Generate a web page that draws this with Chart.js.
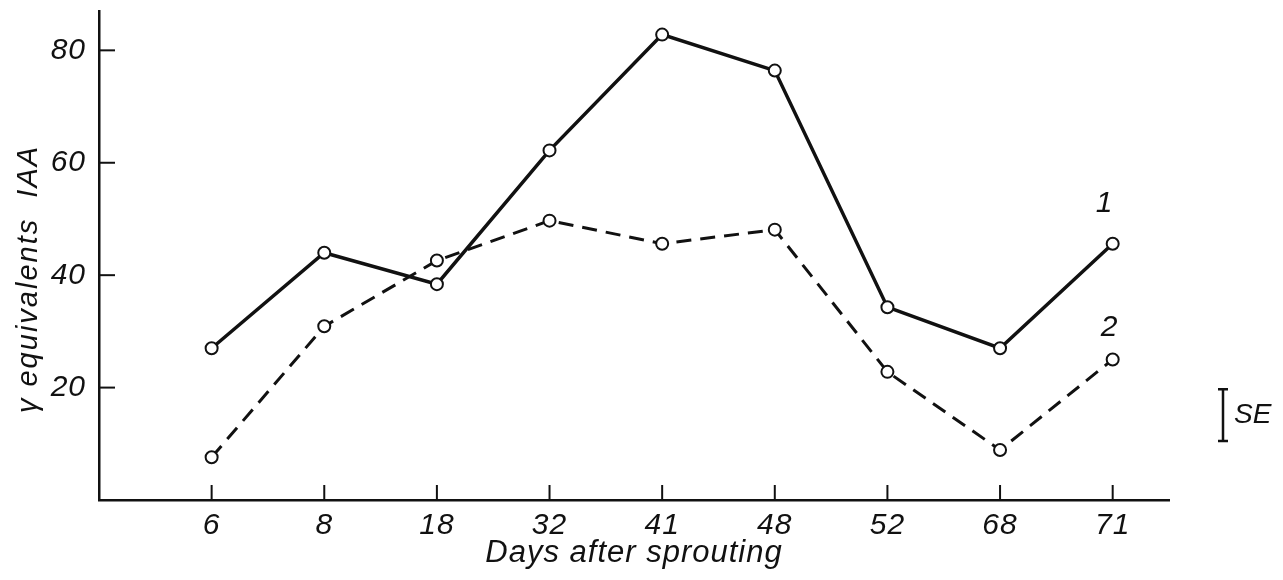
<!DOCTYPE html>
<html>
<head>
<meta charset="utf-8">
<script src="https://cdn.jsdelivr.net/npm/chart.js@4/dist/chart.umd.min.js"></script>
<style>
  html, body { margin: 0; padding: 0; background: #fff; }
  #wrap { width: 1283px; height: 580px; }
</style>
</head>
<body>
<div id="wrap"><canvas id="iaaChart" width="1283" height="580"></canvas></div>
<script>
// Días después de la brotación y equivalentes de AIA
const days = ['6', '8', '18', '32', '41', '48', '52', '68', '71'];
const curve1 = [27.0, 44.0, 38.4, 62.2, 82.8, 76.4, 34.3, 27.0, 45.6];
const curve2 = [7.6, 30.9, 42.6, 49.7, 45.6, 48.1, 22.8, 8.9, 25.0];
const yTicks = [20, 40, 60, 80];
const curveLabels = ['1', '2'];
const seLength = 9.2;
const seBottom = 10.5;

const ink = '#111';
const fontFamily = '"Liberation Sans", "DejaVu Sans", sans-serif';

const toPoints = (values) => values.map((v, i) => ({ x: i, y: v }));

// Sin relleno de las escalas: el área del gráfico queda fija
const noPadding = (scale) => {
    scale.paddingTop = 0;
    scale.paddingBottom = 0;
    scale.paddingLeft = 0;
    scale.paddingRight = 0;
};

// Marcas de los ejes hacia dentro, rótulos de curvas y barra de error
const extrasPlugin = {
    id: 'extras',
    beforeDraw(chart) {
        chart.ctx.letterSpacing = '1px';
    },
    afterDraw(chart) {
        const { ctx, scales: { x, y }, chartArea } = chart;
        ctx.save();
        ctx.strokeStyle = ink;
        ctx.fillStyle = ink;
        ctx.lineWidth = 2;

        // marcas del eje x
        days.forEach((_, i) => {
            const px = x.getPixelForValue(i);
            ctx.beginPath();
            ctx.moveTo(px, chartArea.bottom);
            ctx.lineTo(px, chartArea.bottom - 15);
            ctx.stroke();
        });
        // marcas del eje y
        yTicks.forEach(v => {
            const py = y.getPixelForValue(v);
            ctx.beginPath();
            ctx.moveTo(chartArea.left, py);
            ctx.lineTo(chartArea.left + 16, py);
            ctx.stroke();
        });

        // título del eje y
        ctx.font = `italic 29px ${fontFamily}`;
        ctx.letterSpacing = '2px';
        ctx.textAlign = 'center';
        ctx.textBaseline = 'middle';
        ctx.save();
        ctx.translate(29, 279);
        ctx.rotate(-Math.PI / 2);
        ctx.fillText('\u03B3 equivalents  IAA', 0, 0);
        ctx.restore();

        // rótulos 1 y 2 junto al último punto
        const last = days.length - 1;
        ctx.letterSpacing = '1px';
        ctx.font = `italic 30px ${fontFamily}`;
        ctx.fillText(curveLabels[0], x.getPixelForValue(last) - 8, y.getPixelForValue(curve1[last]) - 40);
        ctx.fillText(curveLabels[1], x.getPixelForValue(last) - 3, y.getPixelForValue(curve2[last]) - 32);

        // barra del error estándar
        const sx = chartArea.right + 54;
        const y0 = y.getPixelForValue(seBottom);
        const y1 = y.getPixelForValue(seBottom + seLength);
        ctx.lineWidth = 2.5;
        ctx.beginPath();
        ctx.moveTo(sx, y0); ctx.lineTo(sx, y1);
        ctx.moveTo(sx - 5, y0); ctx.lineTo(sx + 5, y0);
        ctx.moveTo(sx - 5, y1); ctx.lineTo(sx + 5, y1);
        ctx.stroke();
        ctx.textAlign = 'left';
        ctx.letterSpacing = '0px';
        ctx.font = `italic 28px ${fontFamily}`;
        ctx.fillText('SE', sx + 11, (y0 + y1) / 2);
        ctx.restore();
    }
};

const lineStyle = {
    borderColor: ink,
    borderWidth: 3.5,
    pointRadius: 6,
    pointBorderWidth: 2,
    pointBackgroundColor: '#fff',
    pointBorderColor: ink,
    tension: 0,
    fill: false
};

new Chart(document.getElementById('iaaChart'), {
    type: 'line',
    data: {
        datasets: [
            { label: curveLabels[0], data: toPoints(curve1), ...lineStyle },
            { label: curveLabels[1], data: toPoints(curve2), ...lineStyle, borderWidth: 3, borderDash: [15, 9] }
        ]
    },
    options: {
        responsive: false,
        animation: false,
        layout: { padding: { top: 11, right: 114, left: 0, bottom: 0 } },
        plugins: {
            legend: { display: false },
            tooltip: { enabled: false }
        },
        scales: {
            x: {
                type: 'linear',
                min: -1,
                max: 8.5,
                afterBuildTicks: (scale) => { scale.ticks = days.map((_, i) => ({ value: i })); },
                afterFit: (scale) => { scale.height = 80; noPadding(scale); },
                grid: { display: false, drawTicks: false },
                border: { display: true, color: ink, width: 2.5 },
                ticks: {
                    color: ink,
                    padding: 8,
                    maxRotation: 0,
                    autoSkip: false,
                    font: { family: fontFamily, style: 'italic', size: 30 },
                    callback: (v) => days[v] ?? ''
                },
                title: {
                    display: true,
                    text: 'Days after sprouting',
                    color: ink,
                    padding: { top: 0, bottom: 8 },
                    font: { family: fontFamily, style: 'italic', size: 31 }
                }
            },
            y: {
                min: 0,
                max: 87,
                afterBuildTicks: (scale) => { scale.ticks = yTicks.map(v => ({ value: v })); },
                afterFit: (scale) => { scale.width = 99; noPadding(scale); },
                grid: { display: false, drawTicks: false },
                border: { display: true, color: ink, width: 2.5 },
                ticks: {
                    color: ink,
                    padding: 13,
                    font: { family: fontFamily, style: 'italic', size: 30 }
                }
            }
        }
    },
    plugins: [extrasPlugin]
});
</script>
</body>
</html>
